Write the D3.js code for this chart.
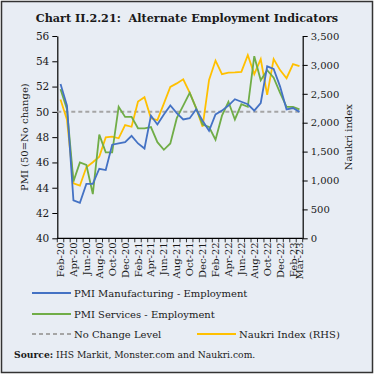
<!DOCTYPE html>
<html>
<head>
<meta charset="utf-8">
<script src="https://cdn.jsdelivr.net/npm/d3@7"></script>
<style>
  body { margin: 0; background: #fff; }
  text { font-family: "DejaVu Serif", serif; fill: #1a1a1a; }
</style>
</head>
<body>
<script>
// months on the category axis (Feb-20 .. Mar-23)
var months = ["Feb-20","Mar-20","Apr-20","May-20","Jun-20","Jul-20","Aug-20","Sep-20","Oct-20","Nov-20","Dec-20",
  "Jan-21","Feb-21","Mar-21","Apr-21","May-21","Jun-21","Jul-21","Aug-21","Sep-21","Oct-21","Nov-21","Dec-21",
  "Jan-22","Feb-22","Mar-22","Apr-22","May-22","Jun-22","Jul-22","Aug-22","Sep-22","Oct-22","Nov-22","Dec-22",
  "Jan-23","Feb-23","Mar-23"];
var tickLabels = ["Feb-20","Apr-20","Jun-20","Aug-20","Oct-20","Dec-20","Feb-21","Apr-21","Jun-21","Aug-21",
  "Oct-21","Dec-21","Feb-22","Apr-22","Jun-22","Aug-22","Oct-22","Dec-22","Feb-23","Mar-23"];

// PMI employment sub-indices (left axis)
var pmiManufacturing = [52.2, 50.5, 43.0, 42.8, 44.3, 44.3, 45.5, 45.4, 47.4, 47.5, 47.6, 48.1, 47.5, 47.1,
  49.7, 49.0, 49.8, 50.5, 49.9, 49.4, 49.5, 50.2, 49.3, 48.5, 49.8, 50.1, 50.5, 51.0, 50.8, 50.6, 50.1, 50.7,
  53.6, 53.4, 52.0, 50.2, 50.3, 50.0];
var pmiServices = [51.8, 50.2, 44.5, 46.0, 45.8, 43.5, 48.2, 46.8, 46.8, 50.4, 49.6, 49.6, 48.7, 48.7, 48.8,
  47.6, 47.0, 47.5, 49.5, 50.5, 51.5, 50.3, 49.0, 48.8, 47.8, 49.7, 50.8, 49.4, 50.6, 50.4, 54.4, 52.5, 53.3,
  52.7, 51.5, 50.4, 50.4, 50.2];
// Naukri JobSpeak index (right axis)
var naukri = [2400, 2050, 950, 910, 1230, 1315, 1410, 1745, 1760, 1730, 1960, 1930, 2365, 2440, 2075, 2045,
  2330, 2620, 2680, 2750, 2520, 2250, 1930, 2740, 3075, 2840, 2865, 2870, 2880, 3170, 2840, 3100, 2480, 3100,
  2910, 2770, 3015, 2980];
var noChange = 50;

var leftTicks = [40, 42, 44, 46, 48, 50, 52, 54, 56];
var rightTicks = [0, 500, 1000, 1500, 2000, 2500, 3000, 3500];

var W = 374, H = 374;
var svg = d3.select("body").append("svg")
    .attr("width", W)
    .attr("height", H);

svg.append("rect")
    .attr("x", 1.5).attr("y", 1.5)
    .attr("width", W - 3).attr("height", H - 3)
    .attr("fill", "#e8edf4")
    .attr("stroke", "#333")
    .attr("stroke-width", 1.5);

svg.append("text")
    .attr("x", 187).attr("y", 22)
    .attr("text-anchor", "middle")
    .attr("font-size", "11.2px")
    .attr("font-weight", "bold")
    .text("Chart II.2.21:\u00a0 Alternate Employment Indicators");

var plotL = 57.3, plotR = 302.7, plotT = 36, plotB = 238.3;

var x = d3.scaleBand().domain(months).range([plotL, plotR]);
var cx = function(m) { return x(m) + x.bandwidth() / 2; };
var yL = d3.scaleLinear().domain([40, 56]).range([plotB, plotT]);
var yR = d3.scaleLinear().domain([0, 3500]).range([plotB, plotT]);

// left axis
var gL = svg.append("g")
    .attr("transform", "translate(" + plotL + ",0)")
    .call(d3.axisLeft(yL).tickValues(leftTicks).tickSize(5).tickSizeOuter(0).tickPadding(3));
gL.selectAll("text").attr("font-size", "10.5px").attr("font-family", "DejaVu Serif");

// right axis
var gR = svg.append("g")
    .attr("transform", "translate(" + plotR + ",0)")
    .call(d3.axisRight(yR).tickValues(rightTicks).tickFormat(d3.format(",")).tickSize(5).tickSizeOuter(0).tickPadding(3));
gR.selectAll("text").attr("font-size", "10px").attr("font-family", "DejaVu Serif");

[gL, gR].forEach(function(g) {
    g.select(".domain").attr("stroke", "#000").attr("stroke-width", 1.2);
    g.selectAll(".tick line").attr("stroke", "#000").attr("stroke-width", 1);
    g.selectAll("text").attr("fill", "#1a1a1a");
});

// x axis: line, month ticks between categories, rotated labels
svg.append("line")
    .attr("x1", plotL).attr("x2", plotR)
    .attr("y1", plotB).attr("y2", plotB)
    .attr("stroke", "#000").attr("stroke-width", 1.2);

svg.append("g").selectAll("line")
    .data(months.concat(["end"]))
    .join("line")
    .attr("x1", function(d, i) { return i < months.length ? x(d) : plotR; })
    .attr("x2", function(d, i) { return i < months.length ? x(d) : plotR; })
    .attr("y1", plotB).attr("y2", plotB + 4)
    .attr("stroke", "#000").attr("stroke-width", 0.8);

svg.append("g").selectAll("text")
    .data(tickLabels)
    .join("text")
    .attr("transform", function(d) { return "translate(" + cx(d) + "," + (plotB + 4) + ") rotate(-90)"; })
    .attr("dy", "0.35em")
    .attr("text-anchor", "end")
    .attr("font-size", "10px")
    .text(function(d) { return d; });

// axis titles
svg.append("text")
    .attr("transform", "translate(28," + ((plotT + plotB) / 2) + ") rotate(-90)")
    .attr("text-anchor", "middle")
    .attr("font-size", "10px")
    .text("PMI (50=No change)");

svg.append("text")
    .attr("transform", "translate(352," + ((plotT + plotB) / 2) + ") rotate(-90)")
    .attr("text-anchor", "middle")
    .attr("font-size", "10px")
    .text("Naukri index");

// no change reference line
svg.append("line")
    .attr("x1", plotL).attr("x2", plotR)
    .attr("y1", yL(noChange)).attr("y2", yL(noChange))
    .attr("stroke", "#a5a5a5")
    .attr("stroke-width", 2)
    .attr("stroke-dasharray", "4,3");

var lineL = d3.line().x(function(d, i) { return cx(months[i]); }).y(function(d) { return yL(d); });
var lineR = d3.line().x(function(d, i) { return cx(months[i]); }).y(function(d) { return yR(d); });

svg.append("path").datum(naukri)
    .attr("d", lineR).attr("fill", "none")
    .attr("stroke", "#ffc000").attr("stroke-width", 1.8);
svg.append("path").datum(pmiServices)
    .attr("d", lineL).attr("fill", "none")
    .attr("stroke", "#70ad47").attr("stroke-width", 1.8);
svg.append("path").datum(pmiManufacturing)
    .attr("d", lineL).attr("fill", "none")
    .attr("stroke", "#4472c4").attr("stroke-width", 1.8);

// legend
var legend = [
    {label: "PMI Manufacturing - Employment", color: "#4472c4", dash: null, x: 32, y: 293},
    {label: "PMI Services - Employment", color: "#70ad47", dash: null, x: 32, y: 314},
    {label: "No Change Level", color: "#a5a5a5", dash: "4,3", x: 32, y: 334},
    {label: "Naukri Index (RHS)", color: "#ffc000", dash: null, x: 197, y: 334}
];
var lg = svg.append("g").selectAll("g").data(legend).join("g");
lg.append("line")
    .attr("x1", function(d) { return d.x; }).attr("x2", function(d) { return d.x + 39; })
    .attr("y1", function(d) { return d.y; }).attr("y2", function(d) { return d.y; })
    .attr("stroke", function(d) { return d.color; })
    .attr("stroke-width", 2)
    .attr("stroke-dasharray", function(d) { return d.dash; });
lg.append("text")
    .attr("x", function(d) { return d.x + 42; })
    .attr("y", function(d) { return d.y; })
    .attr("dy", "0.35em")
    .attr("font-size", "10px")
    .text(function(d) { return d.label; });

// source
var src = svg.append("text")
    .attr("x", 14).attr("y", 358)
    .attr("font-size", "9.2px");
src.append("tspan").attr("font-weight", "bold").text("Source:");
src.append("tspan").text(" IHS Markit, Monster.com and Naukri.com.");
</script>
</body>
</html>
